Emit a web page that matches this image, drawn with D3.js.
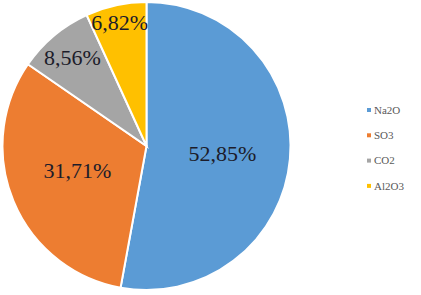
<!DOCTYPE html>
<html>
<head>
<meta charset="utf-8">
<script src="https://cdn.jsdelivr.net/npm/d3@7"></script>
<style>
  body { margin: 0; background: #fff; }
</style>
</head>
<body>
<div class="pie"></div>
<script>
let svgWidth = 421;
let svgHeight = 295;

let categories = ["Na2O", "SO3", "CO2", "Al2O3"];
let values = [52.85, 31.71, 8.56, 6.82];
let labels = ["52,85%", "31,71%", "8,56%", "6,82%"];
let colors = ["#5b9bd5", "#ed7d31", "#a5a5a5", "#ffc000"];

let cx = 146.5, cy = 146, radius = 144;
let fontFamily = "'Liberation Serif', 'Times New Roman', Times, serif";

let svg = d3.select(".pie")
    .append("svg")
    .attr("width", svgWidth)
    .attr("height", svgHeight)
    .attr("font-family", fontFamily);

let data = categories.map((c, i) => ({name: c, value: values[i], label: labels[i], color: colors[i]}));

let pie = d3.pie()
    .sort(null)
    .value(d => d.value);

let arc = d3.arc()
    .innerRadius(0)
    .outerRadius(radius);

let chartgroup = svg.append("g")
    .attr("transform", `translate(${cx}, ${cy})`);

let arcs = pie(data);

chartgroup.selectAll("path")
    .data(arcs)
    .enter()
    .append("path")
    .attr("d", arc)
    .attr("fill", d => d.data.color)
    .attr("stroke", "#fff")
    .attr("stroke-width", 2);

// label radii differ per slice (small slices pushed out)
let labelRadius = [0.53, 0.52, 0.80, 0.88];
chartgroup.selectAll("text.lbl")
    .data(arcs)
    .enter()
    .append("text")
    .attr("class", "lbl")
    .attr("transform", (d, i) => {
        let a = (d.startAngle + d.endAngle) / 2;
        let r = radius * labelRadius[i];
        return `translate(${Math.sin(a) * r}, ${-Math.cos(a) * r - (i === 1 ? 4 : 0)})`;
    })
    .attr("text-anchor", "middle")
    .attr("dy", "0.35em")
    .attr("font-family", fontFamily)
    .attr("font-size", "22px")
    .attr("fill", "#1c1c2a")
    .text(d => d.data.label);

let legend = svg.append("g")
    .attr("transform", "translate(367, 110)");

let items = legend.selectAll("g")
    .data(data)
    .enter()
    .append("g")
    .attr("transform", (d, i) => `translate(0, ${i * 25.3})`);

items.append("rect")
    .attr("x", 0)
    .attr("y", -2)
    .attr("width", 4)
    .attr("height", 4)
    .attr("fill", d => d.color);

items.append("text")
    .attr("x", 7)
    .attr("dy", "0.35em")
    .attr("font-family", fontFamily)
    .attr("font-size", "11px")
    .attr("fill", "#595959")
    .text(d => d.name);
</script>
</body>
</html>
